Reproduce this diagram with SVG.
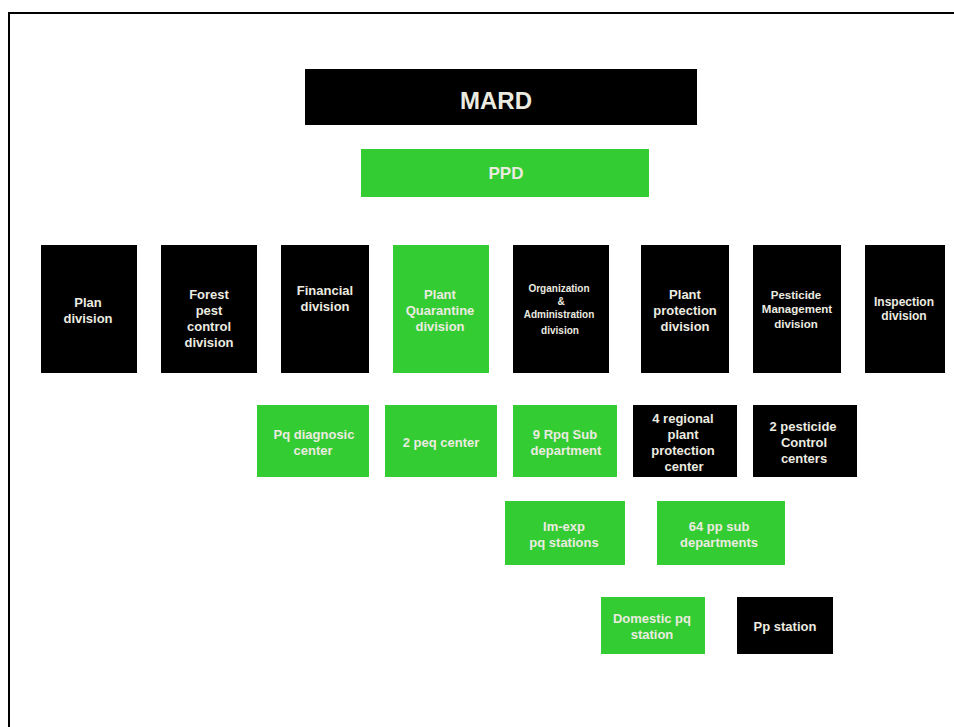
<svg xmlns="http://www.w3.org/2000/svg" width="954" height="727" viewBox="0 0 954 727">
  <style>
    .blk { fill: #000000; }
    .grn { fill: #33cc33; }
    text { font-family: "Liberation Sans", Arial, sans-serif; font-weight: bold; fill: #ecebe0; text-anchor: middle; dominant-baseline: central; }
    .t13 { font-size: 13px; }
    .t12 { font-size: 12px; }
    .t11 { font-size: 11.5px; }
    .t10 { font-size: 10px; }
  </style>
  <rect width="954" height="727" fill="#ffffff"/>
  <!-- page frame -->
  <path d="M9 727 V13 H954" fill="none" stroke="#000000" stroke-width="2"/>

  <g id="connectors"></g>

  <g id="mard">
    <rect class="blk" x="305" y="69" width="392" height="56"/>
    <text x="496" y="100" style="font-size:24px">MARD</text>
  </g>
  <g id="ppd">
    <rect class="grn" x="361" y="149" width="288" height="48"/>
    <text x="506" y="173" style="font-size:17px">PPD</text>
  </g>

  <g id="plan-division">
    <rect class="blk" x="41" y="245" width="96" height="128"/>
    <text class="t13" x="88" y="302">Plan</text>
    <text class="t13" x="88" y="318">division</text>
  </g>
  <g id="forest-division">
    <rect class="blk" x="161" y="245" width="96" height="128"/>
    <text class="t13" x="209" y="294">Forest</text>
    <text class="t13" x="209" y="310">pest</text>
    <text class="t13" x="209" y="326">control</text>
    <text class="t13" x="209" y="342">division</text>
  </g>
  <g id="financial-division">
    <rect class="blk" x="281" y="245" width="88" height="128"/>
    <text class="t13" x="325" y="290">Financial</text>
    <text class="t13" x="325" y="306">division</text>
  </g>
  <g id="quarantine-division">
    <rect class="grn" x="393" y="245" width="96" height="128"/>
    <text class="t13" x="440" y="294">Plant</text>
    <text class="t13" x="440" y="310">Quarantine</text>
    <text class="t13" x="440" y="326">division</text>
  </g>
  <g id="organization-division">
    <rect class="blk" x="513" y="245" width="96" height="128"/>
    <text class="t10" x="559" y="288">Organization</text>
    <text class="t10" x="561" y="301">&amp;</text>
    <text class="t10" x="559" y="314">Administration</text>
    <text class="t10" x="560" y="330">division</text>
  </g>
  <g id="protection-division">
    <rect class="blk" x="641" y="245" width="88" height="128"/>
    <text class="t13" x="685" y="294">Plant</text>
    <text class="t13" x="685" y="310">protection</text>
    <text class="t13" x="685" y="326">division</text>
  </g>
  <g id="pesticide-division">
    <rect class="blk" x="753" y="245" width="88" height="128"/>
    <text class="t11" x="796" y="295">Pesticide</text>
    <text class="t11" x="797" y="309">Management</text>
    <text class="t11" x="796" y="324">division</text>
  </g>
  <g id="inspection-division">
    <rect class="blk" x="865" y="245" width="80" height="128"/>
    <text class="t12" x="904" y="302">Inspection</text>
    <text class="t12" x="904" y="316">division</text>
  </g>

  <g id="pq-diagnostic-center">
    <rect class="grn" x="257" y="405" width="112" height="72"/>
    <text class="t13" x="314" y="434">Pq diagnosic</text>
    <text class="t13" x="313" y="450">center</text>
  </g>
  <g id="peq-center">
    <rect class="grn" x="385" y="405" width="112" height="72"/>
    <text class="t13" x="441" y="442">2 peq center</text>
  </g>
  <g id="rpq-sub-department">
    <rect class="grn" x="513" y="405" width="104" height="72"/>
    <text class="t13" x="565" y="434">9 Rpq Sub</text>
    <text class="t13" x="566" y="450">department</text>
  </g>
  <g id="regional-pp-center">
    <rect class="blk" x="633" y="405" width="104" height="72"/>
    <text class="t13" x="683" y="418">4 regional</text>
    <text class="t13" x="683" y="434">plant</text>
    <text class="t13" x="683" y="450">protection</text>
    <text class="t13" x="684" y="466">center</text>
  </g>
  <g id="pesticide-control-centers">
    <rect class="blk" x="753" y="405" width="104" height="72"/>
    <text class="t13" x="803" y="426">2 pesticide</text>
    <text class="t13" x="804" y="442">Control</text>
    <text class="t13" x="804" y="458">centers</text>
  </g>

  <g id="imexp-pq-stations">
    <rect class="grn" x="505" y="501" width="120" height="64"/>
    <text class="t13" x="564" y="526">Im-exp</text>
    <text class="t13" x="564" y="542">pq stations</text>
  </g>
  <g id="pp-sub-departments">
    <rect class="grn" x="657" y="501" width="128" height="64"/>
    <text class="t13" x="719" y="526">64 pp sub</text>
    <text class="t13" x="719" y="542">departments</text>
  </g>

  <g id="domestic-pq-station">
    <rect class="grn" x="601" y="597" width="104" height="57"/>
    <text class="t13" x="652" y="618">Domestic pq</text>
    <text class="t13" x="652" y="634">station</text>
  </g>
  <g id="pp-station">
    <rect class="blk" x="737" y="597" width="96" height="57"/>
    <text class="t13" x="785" y="626">Pp station</text>
  </g>
</svg>
